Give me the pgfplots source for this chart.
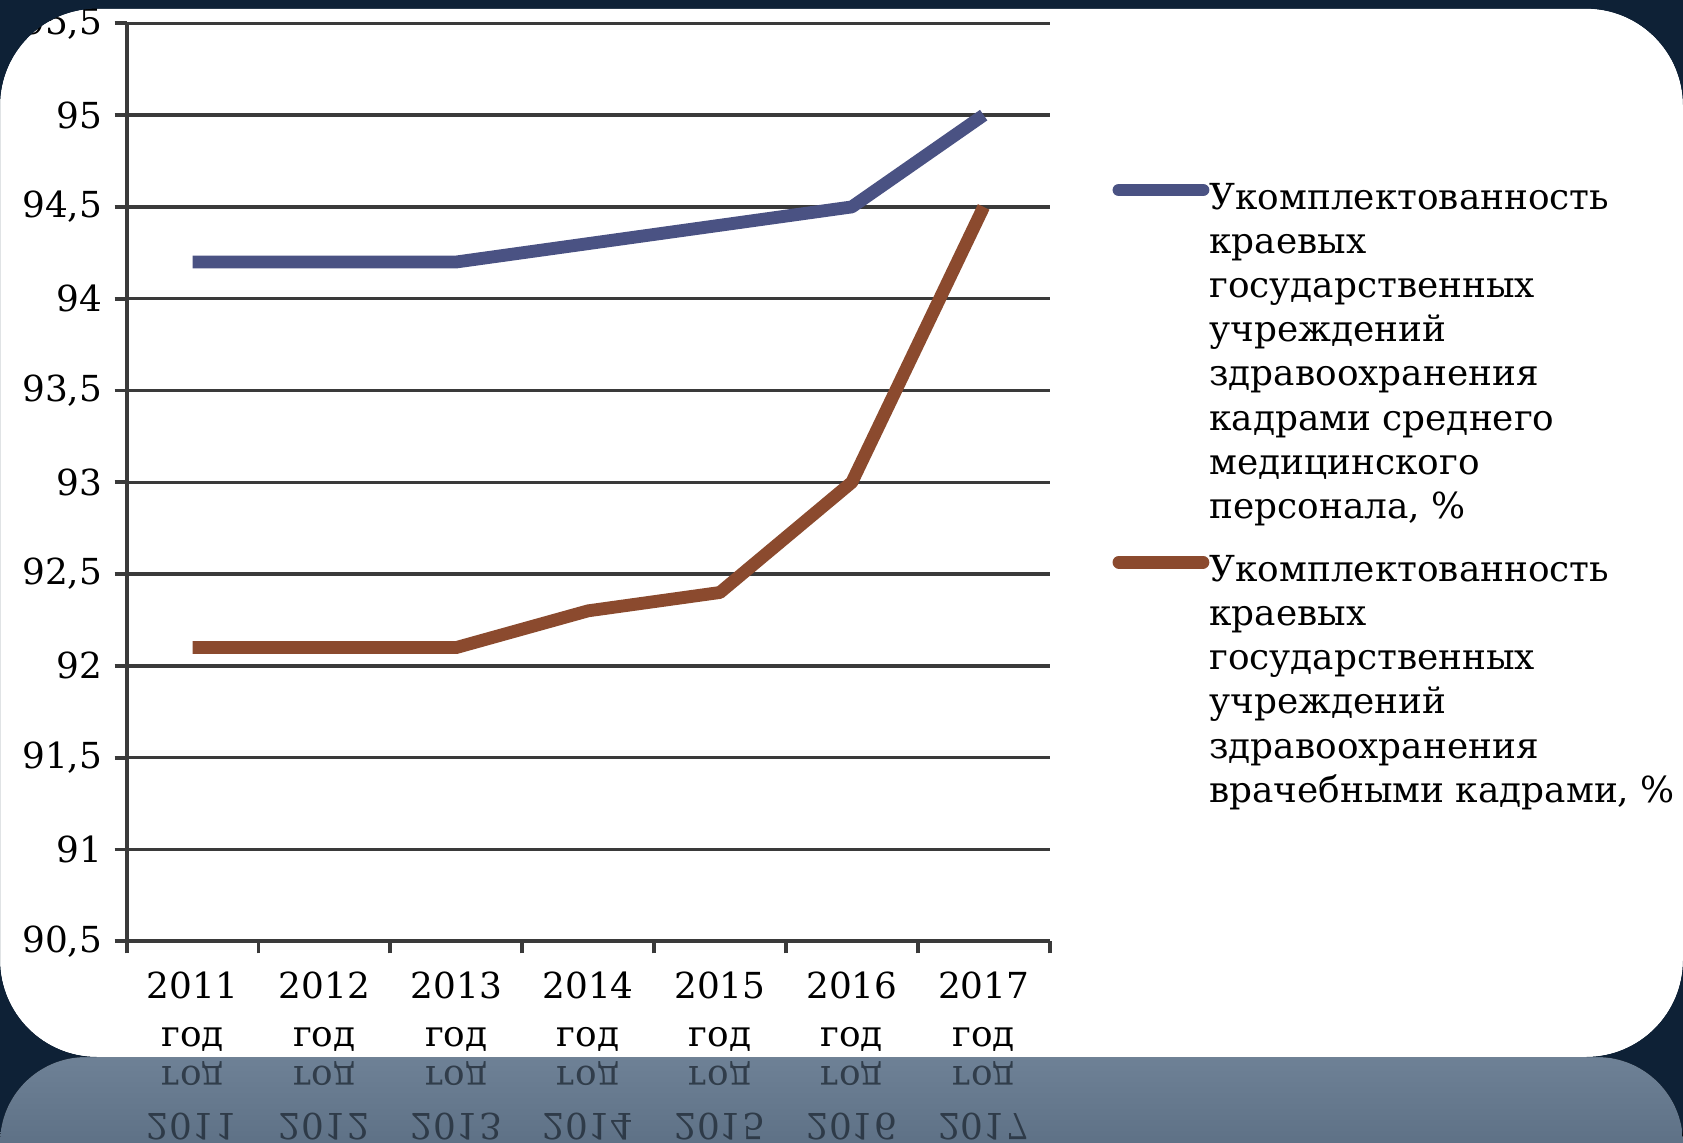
\documentclass[border=0pt]{standalone}
\usepackage{pgfplots}
\pgfplotsset{compat=1.18}
\usepackage{fontspec}
\setmainfont{DejaVu Serif}

\definecolor{seriesA}{HTML}{4A5283}
\definecolor{seriesB}{HTML}{8B4A2E}
\definecolor{gridc}{HTML}{3A3A3A}
\definecolor{navy}{HTML}{0E2136}
\definecolor{reflTop}{HTML}{6E8196}
\definecolor{reflBot}{HTML}{4C5F74}
\definecolor{refltext}{HTML}{1E2833}

\newcommand{\chartfont}{\fontsize{10.2}{12.56}\selectfont}
\newcommand{\catfont}{\fontsize{10.2}{13.7}\selectfont}
\newcommand{\reflfont}{\fontsize{10.2}{13.2}\selectfont}

\begin{document}
\begin{tikzpicture}[x=1cm,y=1cm]
\clip (0,0) rectangle (16.83,11.42);
% background, reflection band, white card
\fill[navy] (0,0) rectangle (16.83,11.42);
\fill[top color=reflTop, bottom color=reflBot, rounded corners=0.86cm] (0,-1) rectangle (16.83,0.85);
\fill[white, rounded corners=0.97cm] (0,0.85) rectangle (16.83,11.334);

\begin{axis}[
  at={(1.266cm,2.007cm)}, anchor=south west,
  width=9.23cm, height=9.18cm, scale only axis,
  xmin=0.5, xmax=7.5, ymin=90.5, ymax=95.5,
  axis x line*=bottom, axis y line*=left,
  axis line style={gridc, line width=1.1pt},
  ytick={90.5,91,...,95.5},
  ymajorgrids, grid style={gridc, line width=1pt},
  xtick={0.5,1.5,...,7.5}, xticklabels={},
  extra x ticks={1,2,...,7},
  extra x tick labels={2011\\год,2012\\год,2013\\год,2014\\год,2015\\год,2016\\год,2017\\год},
  extra x tick style={major tick length=0pt},
  tick align=outside, major tick length=0.12cm,
  tick style={gridc, line width=1.1pt},
  xticklabel style={align=center, font=\catfont, yshift=-0.18cm},
  yticklabel style={font=\chartfont, /pgf/number format/.cd, fixed, precision=1, use comma},
  /pgf/number format/assume math mode=true,
  clip=false,
  legend style={at={(rel axis cs:1.056,0.835)}, anchor=north west, draw=none, fill=none,
    font=\chartfont, row sep=0.31cm, cells={anchor=north west},
    nodes={inner sep=0pt, align=left}},
  legend image code/.code={\draw[#1, line cap=round] (0.06cm,-0.075cm) -- (0.9cm,-0.075cm);},
]
\addplot[seriesA, line width=3.65pt, line join=round] coordinates {
  (1,94.2) (2,94.2) (3,94.2) (4,94.3) (5,94.4) (6,94.5) (7,95.0)};
\addlegendentry{Укомплектованность\\краевых\\государственных\\учреждений\\здравоохранения\\кадрами среднего\\медицинского\\персонала, \%}
\addplot[seriesB, line width=3.65pt, line join=round] coordinates {
  (1,92.1) (2,92.1) (3,92.1) (4,92.3) (5,92.4) (6,93.0) (7,94.5)};
\addlegendentry{Укомплектованность\\краевых\\государственных\\учреждений\\здравоохранения\\врачебными кадрами, \%}
\pgfplotsinvokeforeach{1,...,7}{\coordinate (r#1) at (axis cs:#1,90.5);}
\end{axis}

% navy frame over the card corners (cuts the top label like the screenshot)
\fill[navy, even odd rule] (0,0.85) rectangle (16.83,11.42)
  [rounded corners=0.97cm] (0,0.85) rectangle (16.83,11.334);

% reflection of the category labels
\foreach \y [count=\i] in {2011,2012,2013,2014,2015,2016,2017} {
  \node[yscale=-1, transform shape, anchor=south, align=center, inner sep=0pt,
        font=\reflfont, text=refltext, opacity=0.75]
    at ([yshift=-1.20cm]r\i) {\y\\год};
}
\end{tikzpicture}
\end{document}
